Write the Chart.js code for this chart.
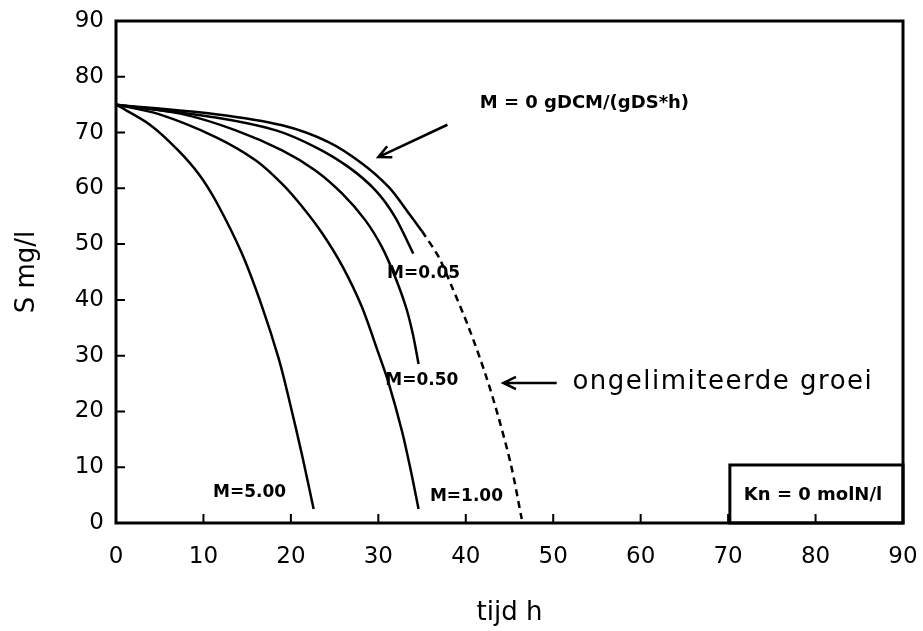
<!DOCTYPE html>
<html>
<head>
<meta charset="utf-8">
<script src="https://cdn.jsdelivr.net/npm/chart.js@4/dist/chart.umd.min.js"></script>
<style>
  html, body { margin: 0; padding: 0; background: #fff; }
  #wrap { width: 923px; height: 631px; }
</style>
</head>
<body>
<div id="wrap"><canvas id="chart"></canvas></div>
<script>
// tijd (h) and S (mg/l), one pair of arrays per curve
var tijdM5 = [0, 3.8, 7, 9.5, 11.5, 14.4, 16.7, 18.6, 19.8, 21.3, 22.6];
var sM5    = [75, 71.5, 67, 62.5, 57.5, 48.3, 38.8, 29.5, 22.1, 12, 2.5];

var tijdM1 = [0, 4.9, 11.4, 16, 19, 21.3, 23.6, 25.9, 28.1, 30, 31.2, 32.7, 33.7, 34.6];
var sM1    = [75, 73.3, 69.2, 65, 60.8, 56.7, 51.9, 46, 38.8, 30.5, 25, 16.5, 9.5, 2.5];

var tijdM050 = [0, 7.6, 13.7, 19, 22.8, 25.9, 28.5, 30.4, 31.9, 33.2, 34, 34.6];
var sM050    = [75, 73.3, 70.4, 66.8, 63.2, 59, 54.3, 49.5, 44.2, 38.5, 33.5, 28.5];

var tijdM005 = [0, 11.4, 18.3, 22.8, 26.6, 29.7, 31.9, 34];
var sM005    = [75, 72.7, 70.4, 67.4, 63.8, 59.6, 54.9, 48.3];

var tijdM0 = [0, 11.4, 19, 24.3, 28.1, 31.2, 33.5, 35];
var sM0    = [75, 73.3, 71.3, 68.3, 64.5, 60.2, 55.5, 52.3];

var tijdOngelim = [35, 36.9, 38.4, 40.3, 42.2, 43.7, 45.2, 46.4];
var sOngelim    = [52.3, 47.7, 42.4, 35.2, 26.9, 19.2, 10.2, 0.7];

var xTicks = [0, 10, 20, 30, 40, 50, 60, 70, 80, 90];
var yTicks = [0, 10, 20, 30, 40, 50, 60, 70, 80, 90];

function pts(xs, ys) {
    return xs.map(function (x, i) { return { x: x, y: ys[i] }; });
}

function curve(label, xs, ys, dashed) {
    return {
        label: label,
        data: pts(xs, ys),
        borderColor: '#000',
        borderWidth: 2.5,
        borderDash: dashed ? [7, 5] : [],
        pointRadius: 0,
        fill: false,
        tension: 0.3
    };
}

function arrow(ctx, x1, y1, x2, y2) {
    // line from (x1,y1) to the head at (x2,y2), open head
    var a = Math.atan2(y2 - y1, x2 - x1);
    var h = 14;
    ctx.beginPath();
    ctx.moveTo(x1, y1);
    ctx.lineTo(x2, y2);
    ctx.moveTo(x2 - h * Math.cos(a - 0.45), y2 - h * Math.sin(a - 0.45));
    ctx.lineTo(x2, y2);
    ctx.lineTo(x2 - h * Math.cos(a + 0.45), y2 - h * Math.sin(a + 0.45));
    ctx.stroke();
}

var framePlugin = {
    id: 'frame',
    afterDraw: function (chart) {
        var ctx = chart.ctx;
        var a = chart.chartArea;
        var xs = chart.scales.x, ys = chart.scales.y;
        ctx.save();
        ctx.strokeStyle = '#000';
        ctx.lineWidth = 3;
        ctx.strokeRect(a.left, a.top, a.right - a.left, a.bottom - a.top);

        // inward tick marks
        ctx.lineWidth = 2;
        ctx.beginPath();
        xTicks.slice(1, -1).forEach(function (v) {
            var px = xs.getPixelForValue(v);
            ctx.moveTo(px, a.bottom);
            ctx.lineTo(px, a.bottom - 9);
        });
        yTicks.slice(1, -1).forEach(function (v) {
            var py = ys.getPixelForValue(v);
            ctx.moveTo(a.left, py);
            ctx.lineTo(a.left + 9, py);
        });
        ctx.stroke();

        // curve labels
        ctx.fillStyle = '#000';
        ctx.textBaseline = 'middle';
        ctx.textAlign = 'left';
        ctx.font = 'bold 17px "DejaVu Sans"';
        ctx.fillText('M=0.05', xs.getPixelForValue(31.0), ys.getPixelForValue(44.8));
        ctx.fillText('M=0.50', xs.getPixelForValue(30.8), ys.getPixelForValue(25.6));
        ctx.fillText('M=1.00', xs.getPixelForValue(35.9), ys.getPixelForValue(4.7));
        ctx.fillText('M=5.00', xs.getPixelForValue(11.1), ys.getPixelForValue(5.4));
        ctx.font = 'bold 18px "DejaVu Sans"';
        ctx.fillText('M = 0 gDCM/(gDS*h)', xs.getPixelForValue(41.6), ys.getPixelForValue(75.3));

        ctx.font = '26px "DejaVu Sans"';
        ctx.letterSpacing = '1.5px';
        ctx.fillText('ongelimiteerde groei', xs.getPixelForValue(52.2), ys.getPixelForValue(25.2));
        ctx.letterSpacing = '0px';

        // arrows
        ctx.lineWidth = 2.5;
        arrow(ctx, xs.getPixelForValue(37.9), ys.getPixelForValue(71.4),
                   xs.getPixelForValue(30.0), ys.getPixelForValue(65.6));
        arrow(ctx, xs.getPixelForValue(50.4), ys.getPixelForValue(25.1),
                   xs.getPixelForValue(44.3), ys.getPixelForValue(25.1));

        // Kn box in lower right corner
        var bx = xs.getPixelForValue(70.2), by = ys.getPixelForValue(10.4);
        ctx.lineWidth = 3;
        ctx.strokeRect(bx, by, a.right - bx, a.bottom - by);
        ctx.font = 'bold 18px "DejaVu Sans"';
        ctx.fillText('Kn = 0 molN/l', bx + 14, (by + a.bottom) / 2 + 1);
        ctx.restore();
    }
};

// tick marks are drawn by the plugin; the library's own (transparent) tick
// length only sets the gap between axis and labels
var hiddenGrid = function (len) {
    return {
        display: true,
        drawOnChartArea: false,
        drawTicks: true,
        tickLength: len,
        tickColor: 'rgba(0,0,0,0)',
        color: 'rgba(0,0,0,0)'
    };
};

new Chart(document.getElementById('chart').getContext('2d'), {
    type: 'line',
    data: {
        datasets: [
            curve('M=5.00', tijdM5, sM5, false),
            curve('M=1.00', tijdM1, sM1, false),
            curve('M=0.50', tijdM050, sM050, false),
            curve('M=0.05', tijdM005, sM005, false),
            curve('M=0', tijdM0, sM0, false),
            curve('ongelimiteerde groei', tijdOngelim, sOngelim, true)
        ]
    },
    options: {
        responsive: true,
        maintainAspectRatio: false,
        animation: false,
        layout: { padding: { left: 0, top: 21, right: 20, bottom: 0 } },
        plugins: {
            legend: { display: false },
            tooltip: { enabled: false }
        },
        scales: {
            x: {
                type: 'linear',
                min: 0,
                max: 90,
                afterBuildTicks: function (scale) {
                    scale.ticks = xTicks.map(function (v) { return { value: v }; });
                },
                afterFit: function (scale) { scale.height = 108; },
                grid: hiddenGrid(20),
                border: { display: false },
                ticks: {
                    color: '#000',
                    padding: 0,
                    maxRotation: 0,
                    font: { family: 'DejaVu Sans', size: 23 }
                },
                title: {
                    display: true,
                    text: 'tijd h',
                    color: '#000',
                    padding: { top: 0, bottom: 2 },
                    font: { family: 'DejaVu Sans', size: 26 }
                }
            },
            y: {
                type: 'linear',
                min: 0,
                max: 90,
                afterBuildTicks: function (scale) {
                    scale.ticks = yTicks.map(function (v) { return { value: v }; });
                },
                afterFit: function (scale) { scale.width = 116; },
                grid: hiddenGrid(12),
                border: { display: false },
                ticks: {
                    color: '#000',
                    padding: 0,
                    font: { family: 'DejaVu Sans', size: 23 }
                },
                title: {
                    display: true,
                    text: 'S mg/l',
                    color: '#000',
                    padding: { top: 12, bottom: 0 },
                    font: { family: 'DejaVu Sans', size: 26 }
                }
            }
        }
    },
    plugins: [framePlugin]
});
</script>
</body>
</html>
